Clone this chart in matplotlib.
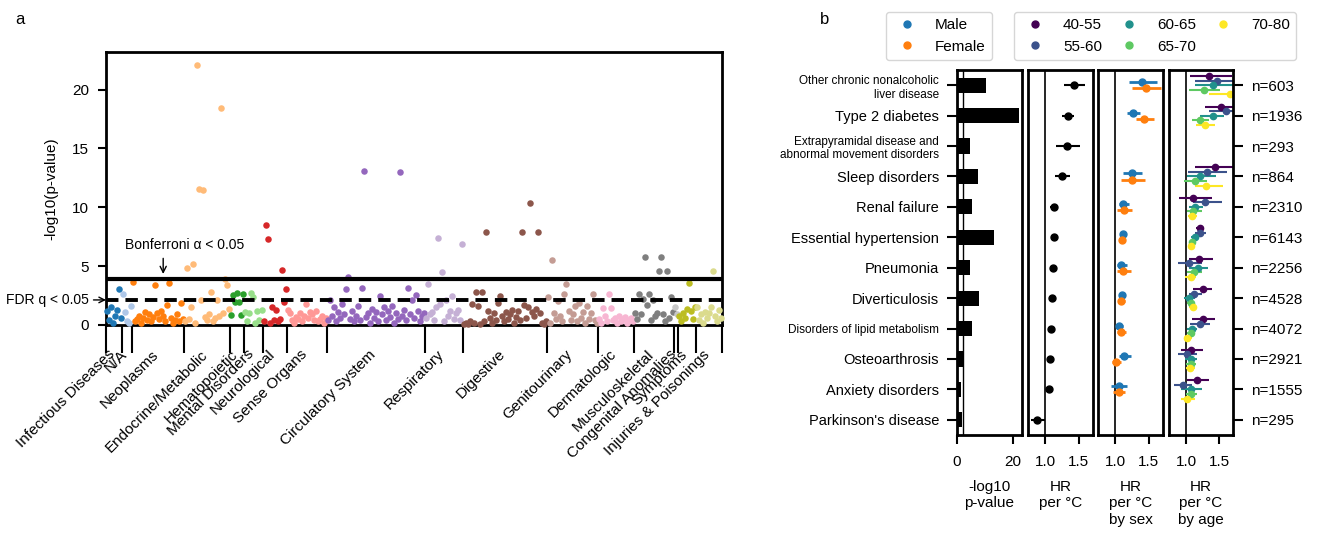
import numpy as np
import matplotlib.pyplot as plt
from matplotlib.lines import Line2D

plt.rcParams['font.family'] = ['Liberation Sans', 'DejaVu Sans']
plt.rcParams['font.size'] = 11

# ---------------- panel a: phenome-wide scan, -log10 p per phecode ----------------
categories = ['Infectious Diseases', 'N/A', 'Neoplasms', 'Endocrine/Metabolic', 'Hematopoietic',
              'Mental Disorders', 'Neurological', 'Sense Organs', 'Circulatory System', 'Respiratory',
              'Digestive', 'Genitourinary', 'Dermatologic', 'Musculoskeletal', 'Congenital Anomalies',
              'Symptoms', 'Injuries & Poisonings']

infectious = [1.2, 0.4, 1.5, 0.2, 0.8, 1.3, 3.05, 0.6]
na_codes = [2.6, 1.1, 0.3, 0.2, 1.6]
neoplasms = [3.65, 0.3, 0.5, 0.8, 0.2, 0.6, 1.1, 0.4, 0.9, 0.3, 0.7, 3.4, 1.0, 0.5, 1.2, 0.8, 0.3,
             1.7, 3.6, 0.6, 0.2, 0.4, 0.9, 0.3, 1.85, 0.5]
endocrine = [0.3, 4.85, 0.5, 1.5, 5.2, 0.2, 22.1, 11.6, 2.1, 11.5, 0.7, 0.4, 0.9, 2.8, 0.3, 0.6, 2.1,
             0.8, 18.4, 1.0, 3.9, 3.4, 1.4]
hematopoietic = [0.85, 2.55, 1.95, 2.7, 1.95, 0.85, 2.6]
mental = [1.1, 0.3, 1.0, 2.7, 2.4, 0.2, 1.2, 0.4, 1.3]
neurological = [0.3, 8.5, 7.3, 0.2, 1.55, 0.4, 1.3, 0.3, 0.5, 4.7, 1.95, 3.1]
sense = [1.3, 1.0, 0.4, 0.2, 0.7, 0.5, 1.0, 0.3, 0.8, 1.8, 0.6, 1.1, 0.9, 0.4, 1.2, 0.3, 0.5, 0.8, 0.2, 0.6]
circulatory = [0.4, 2.1, 0.8, 1.5, 0.3, 1.1, 0.6, 1.8, 0.9, 3.05, 4.1, 0.5, 1.2, 0.3, 0.8, 1.6, 0.4,
               3.15, 13.1, 0.7, 1.0, 0.2, 1.4, 0.6, 1.1, 0.3, 2.5, 0.9, 1.5, 0.4, 1.2, 0.7, 1.6, 0.2,
               1.0, 0.5, 13.0, 0.8, 1.3, 0.4, 3.15, 0.9, 2.1, 0.6, 2.55, 1.2, 0.3, 0.8, 1.0]
respiratory = [0.6, 3.5, 0.9, 1.1, 0.4, 1.5, 7.4, 1.8, 4.5, 0.3, 2.1, 0.8, 1.2, 2.5, 0.5, 1.0, 1.3, 0.4, 6.9]
digestive = [0.1, 0.2, 0.1, 0.3, 1.8, 0.2, 2.8, 1.6, 0.1, 2.8, 0.3, 7.9, 1.2, 0.6, 0.2, 1.0, 0.4, 1.9,
             2.45, 0.8, 0.3, 1.1, 0.5, 0.9, 1.3, 0.2, 0.7, 1.2, 0.4, 7.9, 1.7, 0.6, 1.5, 10.4, 1.1, 0.8,
             1.4, 7.9, 1.0, 0.2, 0.1, 0.3]
genitourinary = [2.4, 0.2, 5.5, 1.0, 0.5, 2.0, 0.8, 0.3, 2.6, 3.5, 1.2, 0.4, 0.9, 1.6, 0.3, 1.9, 0.6,
                 1.1, 0.2, 1.6, 0.5, 1.0, 2.6, 0.4, 0.2]
dermatologic = [0.5, 0.2, 1.45, 0.8, 0.3, 2.6, 1.45, 0.4, 0.6, 0.2, 0.8, 0.3, 0.5, 0.7, 0.2, 0.4, 0.6, 0.3]
musculoskeletal = [1.0, 0.5, 2.6, 0.9, 2.2, 5.8, 1.7, 2.6, 0.4, 2.1, 0.8, 1.0, 4.6, 5.8, 0.9, 0.3, 4.6,
                   0.6, 2.4, 1.1]
congenital = [1.5, 0.9]
symptoms = [0.8, 0.3, 1.0, 0.6, 1.4, 3.55, 1.2, 0.5, 1.5]
injuries = [1.5, 0.4, 0.9, 0.2, 1.1, 0.6, 1.0, 1.5, 4.6, 0.8, 0.3, 1.3, 0.6]

cat_values = [infectious, na_codes, neoplasms, endocrine, hematopoietic, mental, neurological, sense,
              circulatory, respiratory, digestive, genitourinary, dermatologic, musculoskeletal,
              congenital, symptoms, injuries]
bonferroni = 3.95
fdr = 2.13

# ---------------- panel b: top associations ----------------
diseases = ['Other chronic nonalcoholic\nliver disease', 'Type 2 diabetes',
            'Extrapyramidal disease and\nabnormal movement disorders', 'Sleep disorders', 'Renal failure',
            'Essential hypertension', 'Pneumonia', 'Diverticulosis', 'Disorders of lipid metabolism',
            'Osteoarthrosis', 'Anxiety disorders', "Parkinson's disease"]
n_cases = [603, 1936, 293, 864, 2310, 6143, 2256, 4528, 4072, 2921, 1555, 295]
neglog_p = [10.4, 22.1, 4.7, 7.4, 5.5, 13.1, 4.5, 7.9, 5.2, 2.6, 1.5, 1.9]

hr = [1.43, 1.34, 1.32, 1.25, 1.13, 1.13, 1.12, 1.10, 1.09, 1.07, 1.06, 0.87]
hr_lo = [1.28, 1.25, 1.16, 1.15, 1.07, 1.11, 1.08, 1.08, 1.07, 1.05, 1.02, 0.78]
hr_hi = [1.59, 1.43, 1.51, 1.37, 1.19, 1.15, 1.16, 1.12, 1.11, 1.09, 1.11, 1.00]

nan = np.nan
hr_male = [1.39, 1.26, nan, 1.24, 1.12, 1.12, 1.09, 1.10, 1.06, 1.13, 1.06, nan]
lo_male = [1.20, 1.17, nan, 1.12, 1.05, 1.09, 1.02, 1.05, 1.02, 1.05, 0.94, nan]
hi_male = [1.62, 1.36, nan, 1.39, 1.21, 1.15, 1.18, 1.15, 1.11, 1.23, 1.18, nan]
hr_female = [1.45, 1.42, nan, 1.24, 1.13, 1.10, 1.12, 1.09, 1.09, 1.01, 1.05, nan]
lo_female = [1.24, 1.30, nan, 1.08, 1.03, 1.07, 1.03, 1.04, 1.03, 0.95, 0.97, nan]
hi_female = [1.68, 1.58, nan, 1.44, 1.24, 1.13, 1.23, 1.15, 1.16, 1.08, 1.15, nan]

age_groups = ['40-55', '55-60', '60-65', '65-70', '70-80']
hr_40_55 = [1.35, 1.53, nan, 1.43, 1.11, 1.21, 1.20, 1.25, 1.25, 1.08, 1.17, nan]
lo_40_55 = [1.06, 1.29, nan, 1.14, 0.89, 1.15, 1.05, 1.10, 1.09, 0.92, 1.01, nan]
hi_40_55 = [1.70, 1.75, nan, 1.75, 1.39, 1.27, 1.41, 1.39, 1.44, 1.25, 1.35, nan]
hr_55_60 = [1.47, 1.60, nan, 1.31, 1.28, 1.21, 1.05, 1.12, 1.21, 1.02, 0.95, nan]
lo_55_60 = [1.14, 1.35, nan, 1.03, 1.10, 1.13, 0.88, 1.05, 1.06, 0.88, 0.82, nan]
hi_55_60 = [1.85, 1.85, nan, 1.62, 1.54, 1.30, 1.24, 1.24, 1.36, 1.16, 1.09, nan]
hr_60_65 = [1.41, 1.40, nan, 1.21, 1.14, 1.13, 1.18, 1.05, 1.09, 1.07, 1.07, nan]
lo_60_65 = [1.14, 1.21, nan, 1.01, 1.04, 1.08, 1.05, 0.97, 1.02, 0.99, 0.92, nan]
hi_60_65 = [1.75, 1.58, nan, 1.45, 1.26, 1.18, 1.33, 1.14, 1.16, 1.16, 1.24, nan]
hr_65_70 = [1.27, 1.21, nan, 1.13, 1.11, 1.09, 1.12, 1.07, 1.07, 1.07, 1.08, nan]
lo_65_70 = [1.05, 1.09, nan, 0.97, 1.01, 1.04, 1.01, 1.01, 1.01, 1.00, 1.00, nan]
hi_65_70 = [1.52, 1.34, nan, 1.31, 1.24, 1.14, 1.24, 1.14, 1.12, 1.15, 1.17, nan]
hr_70_80 = [1.67, 1.28, nan, 1.30, 1.09, 1.08, 1.07, 1.11, 1.02, 1.06, 1.02, nan]
lo_70_80 = [1.35, 1.15, nan, 1.14, 1.03, 1.03, 0.99, 1.05, 0.96, 1.00, 0.92, nan]
hi_70_80 = [2.05, 1.43, nan, 1.56, 1.16, 1.13, 1.15, 1.17, 1.09, 1.14, 1.14, nan]

W, H = 1325, 534
fig = plt.figure(figsize=(W / 100, H / 100), dpi=100)


def box(x0, y0, x1, y1):
    # pixel box -> figure fraction
    return [x0 / W, 1 - y1 / H, (x1 - x0) / W, (y1 - y0) / H]


# ---- panel a
tab20 = plt.get_cmap('tab20').colors
cat_colors = [tab20[i] for i in [0, 1, 2, 3, 4, 5, 6, 7, 8, 9, 10, 11, 13, 14, 15, 16, 17]]

axa = fig.add_axes(box(106, 52, 722, 325))
start = 0
bounds = [0]
mids = []
for vals, col in zip(cat_values, cat_colors):
    x = np.arange(len(vals)) + start + 0.5
    axa.scatter(x, vals, s=22, color=col, linewidths=0, zorder=3, clip_on=False)
    mids.append(start + len(vals) / 2 + 1.5)
    start += len(vals)
    bounds.append(start)

axa.axhline(bonferroni, color='k', lw=3, zorder=4)
axa.axhline(fdr, color='k', lw=2.8, ls=(0, (3.2, 1.8)), zorder=4)
axa.set_xlim(0, start)
axa.set_ylim(0, 23.2)
axa.set_yticks([0, 5, 10, 15, 20])
axa.set_ylabel('-log10(p-value)', labelpad=10)
axa.set_xticks(mids)
axa.set_xticklabels(categories, rotation=45, ha='right')
axa.set_xticks(bounds, minor=True)
axa.tick_params(axis='x', which='major', length=0, pad=16)
axa.tick_params(axis='x', which='minor', length=20, width=1.5)
axa.tick_params(axis='y', length=6, width=1.5, pad=6)
for sp in axa.spines.values():
    sp.set_linewidth(2)

axa.annotate('', xy=(28.5, bonferroni + 0.15), xytext=(28.5, 5.9),
             arrowprops=dict(arrowstyle='->', color='k', lw=1))
axa.text(39.4, 6.2, 'Bonferroni α < 0.05', ha='center', va='bottom', fontsize=10)
axa.annotate('FDR q < 0.05', xy=(0, fdr), xytext=(-12, 0), textcoords='offset points',
             ha='right', va='center', fontsize=10, annotation_clip=False,
             arrowprops=dict(arrowstyle='->', color='k', lw=1, shrinkA=1, shrinkB=0))

fig.text(15 / W, 1 - 20 / H, 'a', fontsize=12, va='center')
fig.text(820 / W, 1 - 20 / H, 'b', fontsize=12, va='center')

# ---- panel b
rows = np.arange(len(diseases))
ax1 = fig.add_axes(box(957, 70, 1022, 435))
ax2 = fig.add_axes(box(1028, 70, 1093, 435))
ax3 = fig.add_axes(box(1098, 70, 1163, 435))
ax4 = fig.add_axes(box(1169, 70, 1233, 435))

ax1.barh(rows, neglog_p, height=0.5, color='k')
ax1.axvline(fdr, color='k', lw=1)
ax1.set_xlim(0, 23.3)
ax1.set_xticks([0, 20])
ax1.set_yticks(rows)
ax1.set_yticklabels(diseases)
for lab, name in zip(ax1.get_yticklabels(), diseases):
    if '\n' in name or len(name) > 25:
        lab.set_fontsize(8.5)
    else:
        lab.set_fontsize(10.5)
ax1.set_xlabel('-log10\np-value', labelpad=8)

ax2.errorbar(hr, rows, xerr=[np.subtract(hr, hr_lo), np.subtract(hr_hi, hr)], fmt='o', color='k',
             ms=5, elinewidth=1.5, capsize=0)
ax2.set_xlabel('HR\nper °C', labelpad=8)

sex_sets = [(hr_male, lo_male, hi_male, 'tab:blue', -0.1),
            (hr_female, lo_female, hi_female, 'tab:orange', 0.1)]
for h, lo, hi, col, off in sex_sets:
    h = np.array(h)
    ax3.errorbar(h, rows + off, xerr=[h - np.array(lo), np.array(hi) - h], fmt='o', color=col,
                 ms=5, elinewidth=2, capsize=0)
ax3.set_xlabel('HR\nper °C\nby sex', labelpad=8)

viridis = plt.get_cmap('viridis')
age_sets = [(hr_40_55, lo_40_55, hi_40_55), (hr_55_60, lo_55_60, hi_55_60), (hr_60_65, lo_60_65, hi_60_65),
            (hr_65_70, lo_65_70, hi_65_70), (hr_70_80, lo_70_80, hi_70_80)]
age_colors = [viridis(v) for v in np.linspace(0, 1, len(age_groups))]
age_offsets = [-0.3, -0.15, 0, 0.15, 0.3]
for (h, lo, hi), col, off in zip(age_sets, age_colors, age_offsets):
    h = np.array(h)
    ax4.errorbar(h, rows + off, xerr=[h - np.array(lo), np.array(hi) - h], fmt='o', color=col,
                 ms=4.5, elinewidth=1.5, capsize=0)
ax4.set_xlabel('HR\nper °C\nby age', labelpad=8)
ax4.yaxis.tick_right()
ax4.set_yticks(rows)
ax4.set_yticklabels(['n=%d' % n for n in n_cases])

for ax in [ax2, ax3, ax4]:
    ax.axvline(1.0, color='k', lw=1.2, zorder=0)
    ax.set_xlim(0.74, 1.71)
    ax.set_xticks([1.0, 1.5])
    if ax is not ax4:
        ax.set_yticks([])
for ax in [ax1, ax2, ax3, ax4]:
    ax.set_ylim(11.5, -0.5)
    ax.tick_params(axis='x', length=6.5, width=1.5, pad=8)
    ax.tick_params(axis='y', length=7, width=1.5, pad=6)
    for sp in ax.spines.values():
        sp.set_linewidth(2)

sex_handles = [Line2D([], [], marker='o', ls='none', color=c, ms=5) for c in ['tab:blue', 'tab:orange']]
fig.legend(sex_handles, ['Male', 'Female'], loc='upper left', bbox_to_anchor=(886 / W, 1 - 12 / H),
           borderaxespad=0, fontsize=11)
age_handles = [Line2D([], [], marker='o', ls='none', color=c, ms=5) for c in age_colors]
fig.legend(age_handles, age_groups, loc='upper left', bbox_to_anchor=(1014 / W, 1 - 12 / H),
           borderaxespad=0, ncol=3, columnspacing=0.8, fontsize=11)

fig.savefig('out.png', dpi=100)
